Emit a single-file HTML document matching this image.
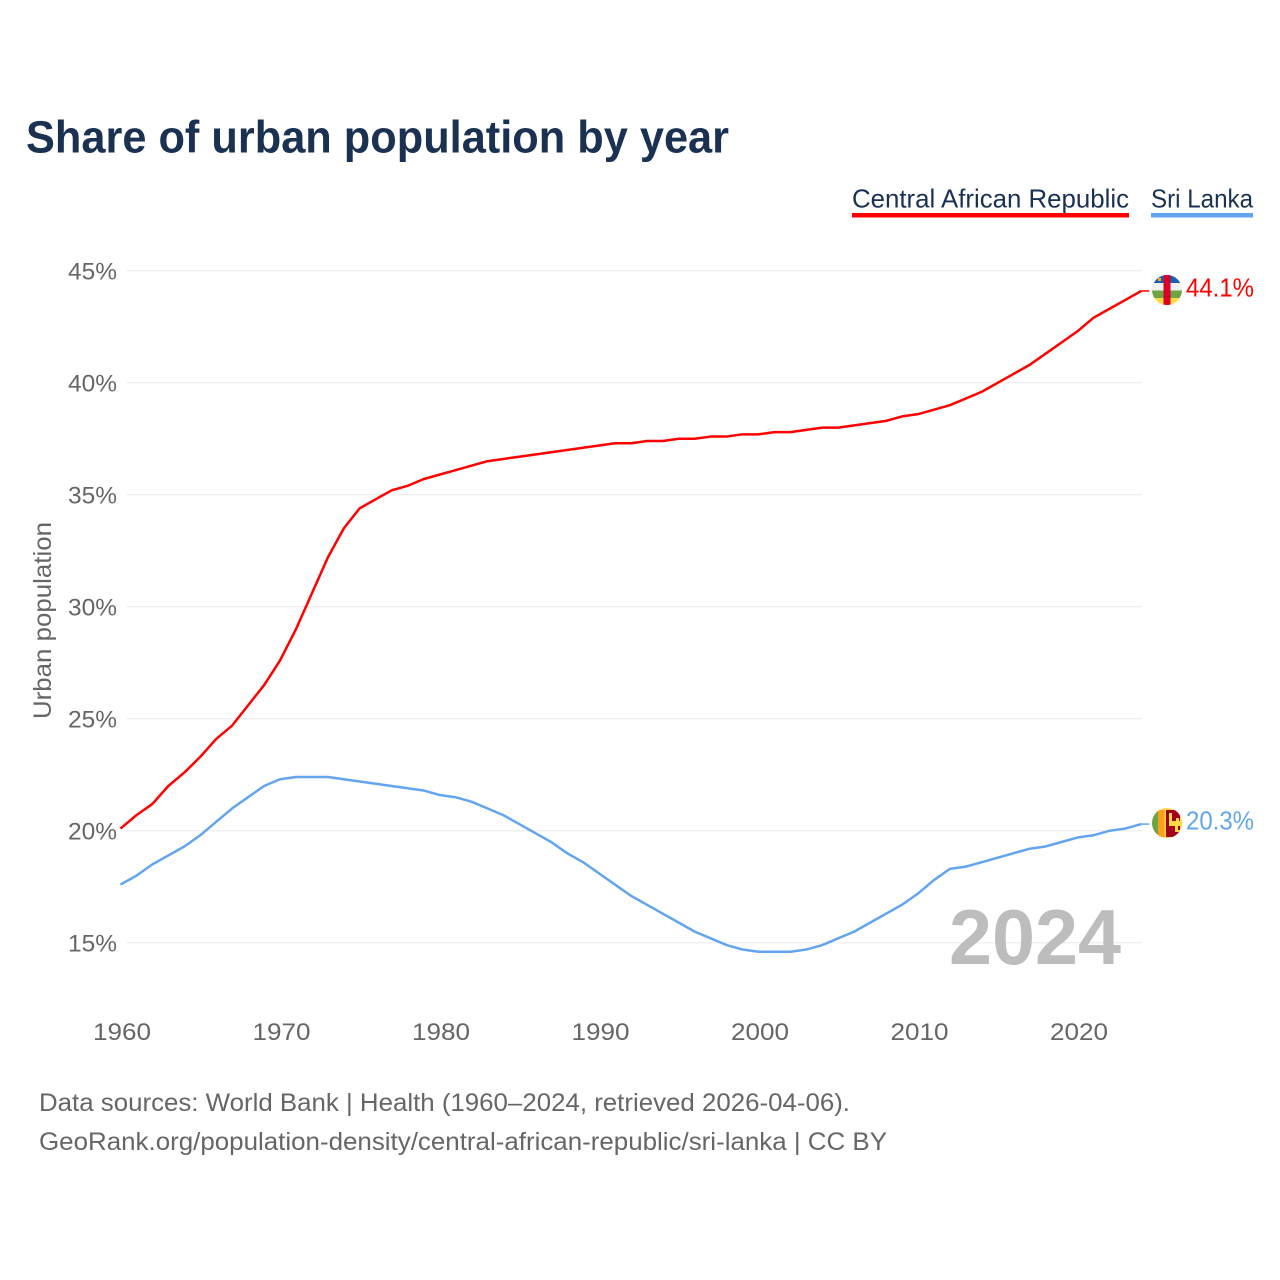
<!DOCTYPE html>
<html lang="en">
<head>
<meta charset="utf-8">
<title>Share of urban population by year</title>
<style>
html,body{margin:0;padding:0;background:#fff;}
svg{display:block;font-family:"Liberation Sans",sans-serif;}
</style>
</head>
<body>
<svg id="chart" width="1280" height="1280" viewBox="0 0 1280 1280" xmlns="http://www.w3.org/2000/svg">
  <defs>
    <clipPath id="clip-car"><circle cx="1167" cy="290" r="15"/></clipPath>
    <clipPath id="clip-lk"><circle cx="1167" cy="823" r="15"/></clipPath>
  </defs>
  <text x="26" y="152.5" font-size="45" font-weight="700" fill="#1a3152" textLength="703" lengthAdjust="spacingAndGlyphs">Share of urban population by year</text>

  <g>
    <g>
      <text x="852" y="207.5" font-size="26" fill="#1a3152" textLength="277" lengthAdjust="spacingAndGlyphs">Central African Republic</text>
      <rect x="852" y="213" width="277" height="4.5" fill="#ff0000"/>
    </g>
    <g>
      <text x="1151" y="207.5" font-size="26" fill="#1a3152" textLength="102" lengthAdjust="spacingAndGlyphs">Sri Lanka</text>
      <rect x="1151" y="213" width="102" height="4.5" fill="#62a5ee"/>
    </g>
  </g>

  <g id="grid"></g>
  <g id="yticks"></g>
  <g id="xticks"></g>
  <text transform="translate(51,719) rotate(-90)" font-size="25" fill="#666666" textLength="197" lengthAdjust="spacingAndGlyphs">Urban population</text>

  <text x="949" y="964" font-size="78" font-weight="700" fill="#bdbdbd" textLength="172" lengthAdjust="spacingAndGlyphs">2024</text>

  <g id="series"></g>

  <g clip-path="url(#clip-car)">
    <rect x="1152" y="275" width="30" height="8" fill="#1c5fb0"/>
    <rect x="1152" y="283" width="30" height="7.5" fill="#f0f0f0"/>
    <rect x="1152" y="290.5" width="30" height="7.5" fill="#6da544"/>
    <rect x="1152" y="298" width="30" height="7" fill="#ffda44"/>
    <rect x="1163.5" y="275" width="7" height="30" fill="#d80027"/>
    <rect x="1158" y="278" width="3" height="3" fill="#ffa51f"/>
  </g>
  <g clip-path="url(#clip-lk)">
    <rect x="1152" y="808" width="30" height="30" fill="#ffda44"/>
    <rect x="1152" y="810" width="6" height="27" fill="#6da544"/>
    <rect x="1158" y="810" width="6.5" height="27" fill="#ff9f1c"/>
    <rect x="1166" y="810" width="14" height="27" fill="#a2001d"/>
    <path d="M1169 813h3v8h4v-3h3v3h3v5h-4v4h2v2h-5v-6h-6z" fill="#ffda44"/>
  </g>

  <g font-size="25" fill="#666666">
    <text x="39" y="1111" textLength="811" lengthAdjust="spacingAndGlyphs">Data sources: World Bank | Health (1960–2024, retrieved 2026-04-06).</text>
    <text x="39" y="1150" textLength="848" lengthAdjust="spacingAndGlyphs">GeoRank.org/population-density/central-african-republic/sri-lanka | CC BY</text>
  </g>
</svg>
<script>
const startYear = 1960;
const carValues = [20.1,20.7,21.2,22.0,22.6,23.3,24.1,24.7,25.6,26.5,27.6,29.0,30.6,32.2,33.5,34.4,34.8,35.2,35.4,35.7,35.9,36.1,36.3,36.5,36.6,36.7,36.8,36.9,37.0,37.1,37.2,37.3,37.3,37.4,37.4,37.5,37.5,37.6,37.6,37.7,37.7,37.8,37.8,37.9,38.0,38.0,38.1,38.2,38.3,38.5,38.6,38.8,39.0,39.3,39.6,40.0,40.4,40.8,41.3,41.8,42.3,42.9,43.3,43.7,44.1];
const lkaValues = [17.6,18.0,18.5,18.9,19.3,19.8,20.4,21.0,21.5,22.0,22.3,22.4,22.4,22.4,22.3,22.2,22.1,22.0,21.9,21.8,21.6,21.5,21.3,21.0,20.7,20.3,19.9,19.5,19.0,18.6,18.1,17.6,17.1,16.7,16.3,15.9,15.5,15.2,14.9,14.7,14.6,14.6,14.6,14.7,14.9,15.2,15.5,15.9,16.3,16.7,17.2,17.8,18.3,18.4,18.6,18.8,19.0,19.2,19.3,19.5,19.7,19.8,20.0,20.1,20.3];
const yTickValues = [15,20,25,30,35,40,45];
const xTickValues = [1960,1970,1980,1990,2000,2010,2020];

const NS = 'http://www.w3.org/2000/svg';
function xScale(year){ return 120.5 + (year - 1960) * 15.95; }
function yScale(v){ return 942.8 - (v - 15) * 22.4; }
function make(tag, attrs, parent){
  const el = document.createElementNS(NS, tag);
  for (const k in attrs) el.setAttribute(k, attrs[k]);
  parent.appendChild(el);
  return el;
}
const grid = document.getElementById('grid');
const yticks = document.getElementById('yticks');
const xticks = document.getElementById('xticks');
const series = document.getElementById('series');

yTickValues.forEach(function(v){
  const line = make('line', {x1:127, x2:1142, y1:yScale(v), y2:yScale(v), stroke:'#ececec', 'stroke-width':1.2}, grid);
  
  
  const t = make('text', {x:117, y:yScale(v)+8.5, 'text-anchor':'end', 'font-size':24, fill:'#666666', textLength:49, lengthAdjust:'spacingAndGlyphs'}, yticks);
  
  
  t.textContent = v + '%';
});
xTickValues.forEach(function(y){
  const t = make('text', {x:xScale(y)+1.5, y:1040, 'text-anchor':'middle', 'font-size':24, fill:'#666666', textLength:58, lengthAdjust:'spacingAndGlyphs'}, xticks);
  
  
  t.textContent = y;
});
function drawSeries(values, color, name){
  const pts = values.map(function(v, i){ return xScale(startYear + i).toFixed(2) + ',' + yScale(v).toFixed(2); });
  const last = values[values.length - 1];
  const lastX = xScale(startYear + values.length - 1);
  const p = make('polyline', {points:pts.join(' '), fill:'none', stroke:color, 'stroke-width':2.5, 'stroke-linejoin':'round'}, series);
  
  
  const c = make('line', {x1:lastX, x2:lastX + 8, y1:yScale(last), y2:yScale(last), stroke:color, 'stroke-width':1.5}, series);
  
  
  const t = make('text', {x:1186, y:yScale(last)+5.5, 'font-size':26, fill:color, textLength:68, lengthAdjust:'spacingAndGlyphs'}, series);
  
  
  t.textContent = last.toFixed(1) + '%';
}
drawSeries(carValues, '#ff0000', 'central-african-republic');
drawSeries(lkaValues, '#62a5ee', 'sri-lanka');
</script>
</body>
</html>
